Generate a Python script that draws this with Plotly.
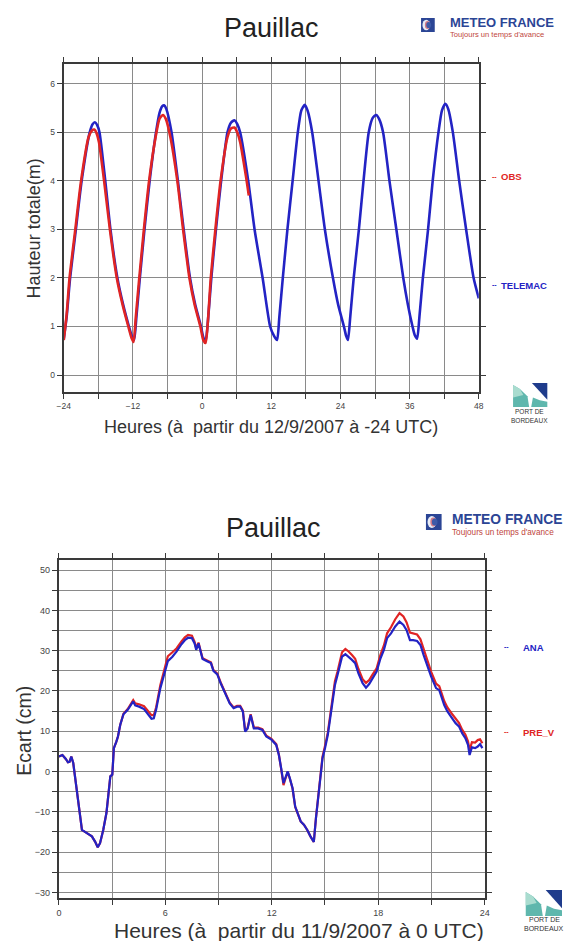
import plotly.graph_objects as go

W, H = 567, 941


def fx(px):
    return px / W


def fy(py):
    return 1 - py / H


# ---- Pauillac: total water height (m), hours from 12/9/2007 -24 UTC ----
telemac_h = [-24.0, -23.5, -22.9, -21.9, -20.9, -19.5, -19.0, -18.6, -18.2, -17.8,
             -16.8, -15.9, -14.7, -13.7, -12.7, -12.2, -11.8, -11.4, -10.8, -10.0,
             -9.1, -8.0, -7.4, -6.9, -6.6, -6.2, -5.3, -4.2, -3.2, -2.1,
             -1.2, -0.2, 0.2, 0.6, 1.0, 1.6, 2.4, 3.3, 4.4, 5.0,
             5.6, 6.1, 6.6, 8.0, 9.1, 10.5, 11.8, 12.5, 13.0, 13.4,
             14.0, 14.8, 15.7, 16.6, 17.2, 17.8, 18.3, 19.1, 20.2, 21.3,
             22.7, 23.6, 24.6, 25.0, 25.3, 25.7, 26.3, 27.2, 28.0, 28.9,
             29.6, 30.2, 30.7, 31.4, 32.5, 33.7, 34.9, 35.7, 36.5, 36.9,
             37.3, 37.7, 38.3, 39.2, 40.0, 41.0, 41.6, 42.2, 42.7, 43.5,
             44.6, 45.8, 47.1, 48.0]
telemac_v = [0.75, 1.2, 2.0, 3.0, 4.0, 5.0, 5.17, 5.21, 5.15, 5.0,
             4.0, 3.0, 2.0, 1.45, 1.0, 0.8, 0.72, 1.2, 2.0, 3.0,
             4.0, 5.0, 5.4, 5.54, 5.56, 5.48, 5.0, 4.0, 3.0, 2.0,
             1.45, 1.0, 0.78, 0.69, 1.1, 2.0, 3.0, 4.0, 5.0, 5.2,
             5.25, 5.17, 5.0, 4.0, 3.0, 2.0, 1.0, 0.8, 0.72, 1.2,
             2.0, 3.0, 4.0, 5.0, 5.45, 5.57, 5.45, 5.0, 4.0, 3.0,
             2.0, 1.45, 1.0, 0.8, 0.72, 1.2, 2.0, 3.0, 4.0, 5.0,
             5.3, 5.36, 5.28, 5.0, 4.0, 3.0, 2.0, 1.45, 1.0, 0.82,
             0.75, 1.2, 2.0, 3.0, 4.0, 5.0, 5.45, 5.59, 5.48, 5.0,
             4.0, 3.0, 2.0, 1.58]

obs_h = [-24.0, -23.5, -23.0, -22.0, -21.0, -19.7, -19.1, -18.7, -18.3, -17.9,
         -16.9, -16.0, -14.8, -13.8, -12.8, -12.2, -11.9, -11.5, -10.9, -10.1,
         -9.2, -8.0, -7.4, -6.8, -6.3, -5.5, -4.3, -3.3, -2.2, -1.3,
         -0.3, 0.2, 0.6, 1.0, 1.5, 2.3, 3.2, 4.4, 5.0, 5.6,
         6.1, 6.6, 7.6, 8.1]
obs_v = [0.72, 1.25, 2.0, 3.0, 4.0, 4.9, 5.04, 5.06, 4.98, 4.8,
         3.9, 3.0, 2.0, 1.45, 1.0, 0.75, 0.68, 1.2, 2.0, 3.0,
         4.0, 4.95, 5.28, 5.36, 5.28, 4.9, 4.0, 3.0, 2.0, 1.45,
         1.0, 0.72, 0.66, 1.1, 2.0, 3.0, 4.0, 4.9, 5.08, 5.1,
         5.0, 4.8, 4.1, 3.7]

# ---- Pauillac: surge (cm), hours from 11/9/2007 0 UTC ----
ecart_h = [0.0, 0.2, 0.39, 0.51, 0.6, 0.7, 0.81, 0.94, 1.12, 1.3,
           1.58, 1.86, 2.04, 2.19, 2.32, 2.5, 2.68, 2.83, 2.9, 3.01,
           3.1, 3.24, 3.33, 3.46, 3.64, 3.88, 4.06, 4.19, 4.3, 4.52,
           4.8, 5.04, 5.22, 5.35, 5.48, 5.72, 5.96, 6.14, 6.4, 6.64,
           6.91, 7.1, 7.28, 7.5, 7.65, 7.74, 7.87, 7.98, 8.1, 8.38,
           8.57, 8.71, 8.93, 9.12, 9.39, 9.63, 9.85, 10.04, 10.22, 10.37,
           10.5, 10.64, 10.81, 10.99, 11.23, 11.47, 11.69, 11.98, 12.25, 12.4,
           12.53, 12.66, 12.77, 12.9, 13.02, 13.17, 13.32, 13.45, 13.63, 13.81,
           14.0, 14.18, 14.37, 14.49, 14.6, 14.73, 14.86, 15.0, 15.16, 15.28,
           15.47, 15.56, 15.71, 15.84, 15.96, 16.15, 16.33, 16.52, 16.7, 16.88,
           17.12, 17.31, 17.49, 17.67, 17.91, 18.13, 18.32, 18.5, 18.72, 18.96,
           19.2, 19.42, 19.6, 19.79, 19.97, 20.19, 20.38, 20.56, 20.8, 20.98,
           21.26, 21.44, 21.72, 21.9, 22.14, 22.36, 22.55, 22.73, 22.91, 23.06,
           23.15, 23.28, 23.46, 23.61, 23.74, 23.87]
ana_v = [3.7, 4.1, 3.1, 2.3, 2.4, 3.7, 2.1, -2.5, -9.1, -14.5,
         -15.3, -16.1, -17.4, -18.8, -17.8, -14.5, -10.3, -4.1, -1.2, -0.8,
         5.8, 7.4, 8.7, 11.6, 14.2, 15.3, 16.5, 17.4, 16.4, 16.1,
         15.5, 14.2, 13.1, 13.2, 15.3, 20.7, 24.8, 27.4, 28.5, 29.8,
         31.6, 32.6, 33.2, 33.1, 31.8, 30.2, 31.8, 29.8, 27.9, 27.3,
         26.9, 25.0, 24.1, 21.9, 19.0, 16.9, 15.7, 16.1, 16.1, 14.9,
         9.9, 10.7, 14.0, 10.7, 10.7, 10.3, 8.7, 7.9, 6.6, 4.1,
         0.8, -2.9, -1.5, 0.0, -1.7, -4.1, -8.7, -10.3, -12.4, -13.2,
         -14.5, -16.1, -17.5, -11.6, -7.4, -1.7, 3.3, 5.8, 9.1, 12.8,
         18.2, 21.5, 24.0, 26.4, 28.5, 29.1, 28.5, 27.7, 26.9, 24.4,
         21.9, 20.8, 21.7, 23.1, 24.8, 28.1, 30.2, 33.1, 34.3, 36.0,
         37.2, 36.4, 35.1, 32.6, 32.6, 32.4, 31.4, 28.9, 25.6, 23.6,
         20.7, 20.2, 16.5, 14.9, 13.4, 12.0, 11.2, 9.5, 8.3, 6.6,
         4.1, 6.0, 5.8, 6.2, 6.8, 5.8]
pre_v = [3.7, 4.1, 3.1, 2.3, 2.4, 3.7, 2.1, -2.5, -9.1, -14.5,
         -15.3, -16.1, -17.4, -18.8, -17.8, -14.5, -10.3, -4.1, -1.2, -0.8,
         5.8, 7.4, 8.7, 11.6, 14.3, 15.5, 16.8, 17.7, 16.9, 16.7,
         16.2, 15.0, 14.0, 14.0, 15.9, 21.5, 26.0, 28.6, 29.6, 30.6,
         32.3, 33.3, 33.9, 33.7, 32.2, 30.6, 32.0, 30.0, 28.1, 27.5,
         27.1, 25.2, 24.3, 22.1, 19.2, 17.1, 15.9, 16.3, 16.3, 15.1,
         10.1, 10.9, 14.2, 10.9, 10.9, 10.5, 8.9, 8.1, 6.8, 4.2,
         0.6, -3.4, -1.8, -0.1, -1.8, -4.2, -8.8, -10.4, -12.4, -13.2,
         -14.5, -16.1, -17.5, -11.5, -7.2, -1.4, 3.7, 6.3, 9.7, 13.5,
         19.0, 22.4, 24.9, 27.4, 29.6, 30.4, 29.8, 28.9, 28.0, 25.5,
         22.9, 22.0, 22.7, 24.0, 25.6, 29.0, 31.3, 34.3, 35.8, 37.8,
         39.3, 38.5, 37.0, 34.5, 34.3, 34.0, 32.8, 30.3, 26.9, 24.8,
         21.8, 21.2, 17.5, 15.9, 14.4, 13.0, 12.1, 10.4, 9.2, 7.5,
         5.2, 7.3, 7.2, 7.8, 8.0, 7.0]

top_xticks = [-24, -12, 0, 12, 24, 36, 48]
top_yticks = [0, 1, 2, 3, 4, 5, 6]
bot_xticks = [0, 6, 12, 18, 24]
bot_yticks = [-30, -20, -10, 0, 10, 20, 30, 40, 50]

BLUE = "#2323c4"
RED = "#e02424"
FONT = "Liberation Sans, Arial, sans-serif"

fig = go.Figure()

fig.add_trace(go.Scatter(x=telemac_h, y=telemac_v, mode="lines", xaxis="x", yaxis="y",
                         line=dict(color=BLUE, width=2.6, shape="spline", smoothing=0.6),
                         name="TELEMAC"))
fig.add_trace(go.Scatter(x=obs_h, y=obs_v, mode="lines", xaxis="x", yaxis="y",
                         line=dict(color=RED, width=2.6, shape="spline", smoothing=0.6),
                         name="OBS"))
fig.add_trace(go.Scatter(x=ecart_h, y=pre_v, mode="lines", xaxis="x2", yaxis="y2",
                         line=dict(color=RED, width=2.2), name="PRE_V"))
fig.add_trace(go.Scatter(x=ecart_h, y=ana_v, mode="lines", xaxis="x2", yaxis="y2",
                         line=dict(color=BLUE, width=2.2), name="ANA"))


def axis_style(**kw):
    base = dict(
        showline=True, linecolor="#3a3a3a", linewidth=2.2, mirror="ticks",
        ticks="outside", ticklen=5, tickwidth=1, tickcolor="#3a3a3a",
        showgrid=True, gridcolor="#8a8a8a", gridwidth=1,
        zeroline=False, fixedrange=True,
        tickfont=dict(family=FONT, size=8.5, color="#444"),
    )
    base.update(kw)
    return base


fig.update_layout(
    width=W, height=H, margin=dict(l=0, r=0, t=0, b=0),
    paper_bgcolor="white", plot_bgcolor="white", showlegend=False,
    xaxis=axis_style(domain=[fx(58), fx(482)], range=[-24, 48], anchor="y",
                     tickvals=top_xticks,
                     minor=dict(dtick=6, tick0=0, showgrid=True, gridcolor="#8a8a8a",
                                ticks="outside", ticklen=5, tickcolor="#3a3a3a")),
    yaxis=axis_style(domain=[fy(392), fy(64)], range=[-0.35, 6.41], anchor="x",
                     tickvals=top_yticks),
    xaxis2=axis_style(domain=[fx(53), fx(488)], range=[0, 24], anchor="y2",
                      tickvals=bot_xticks,
                      tickfont=dict(family=FONT, size=9, color="#444"),
                      minor=dict(dtick=3, tick0=0, showgrid=True, gridcolor="#8a8a8a",
                                 ticks="outside", ticklen=5, tickcolor="#3a3a3a")),
    yaxis2=axis_style(domain=[fy(898), fy(560)], range=[-31.4, 52.5], anchor="x2",
                      tickvals=bot_yticks,
                      tickfont=dict(family=FONT, size=9, color="#444"),
                      minor=dict(dtick=5, tick0=0, showgrid=True, gridcolor="#8a8a8a",
                                 ticks="outside", ticklen=5, tickcolor="#3a3a3a")),
)

ann = []


def text(px, py, s, size, color="#222", xanchor="center", angle=0, family=FONT):
    ann.append(dict(x=fx(px), y=fy(py), xref="paper", yref="paper", text=s,
                    showarrow=False, xanchor=xanchor, yanchor="middle", textangle=angle,
                    font=dict(family=family, size=size, color=color)))


# titles
text(270, 28, "Pauillac", 27)
text(272, 528, "Pauillac", 27)

# axis titles
text(270, 427, "Heures (à\u00a0 partir du 12/9/2007 à -24 UTC)", 18, "#333")
text(28, 228, "Hauteur totale(m)", 18, "#333", angle=-90)
text(298, 930, "Heures (à\u00a0 partir du 11/9/2007 à 0 UTC)", 21, "#333")
text(17, 731, "Ecart (cm)", 19.5, "#333", angle=-90)

# series labels
text(493, 176, "<b>--</b>", 7, RED, xanchor="left")
text(503, 177, "<b>OBS</b>", 9.5, RED, xanchor="left")
text(493, 284, "<b>--</b>", 7, BLUE, xanchor="left")
text(503, 285, "<b>TELEMAC</b>", 9.5, BLUE, xanchor="left")
text(506, 646, "<b>--</b>", 7, BLUE, xanchor="left")
text(525, 647, "<b>ANA</b>", 9.5, BLUE, xanchor="left")
text(506, 731, "<b>--</b>", 7, RED, xanchor="left")
text(525, 732, "<b>PRE_V</b>", 9.5, RED, xanchor="left")

# METEO FRANCE marks
MF_BLUE = "#2b4595"
MF_RED = "#c0463c"
text(451, 22.5, "<b>METEO FRANCE</b>", 13, MF_BLUE, xanchor="left")
text(451, 34, "Toujours un temps d'avance", 7.6, MF_RED, xanchor="left")
text(453, 519, "<b>METEO FRANCE</b>", 13.8, MF_BLUE, xanchor="left")
text(453, 532.5, "Toujours un temps d'avance", 8.2, MF_RED, xanchor="left")

# PORT DE BORDEAUX marks
text(534, 411, "PORT DE", 6.5, "#333")
text(534, 420, "BORDEAUX", 6.5, "#333")
text(549, 919, "PORT DE", 7, "#333")
text(549, 928, "BORDEAUX", 7, "#333")

fig.update_layout(annotations=ann)

shapes = []


def rect(x0, y0, x1, y1, color):
    shapes.append(dict(type="rect", xref="paper", yref="paper",
                       x0=fx(x0), x1=fx(x1), y0=fy(y1), y1=fy(y0),
                       fillcolor=color, line=dict(width=0), layer="above"))


def circle(x0, y0, x1, y1, color):
    shapes.append(dict(type="circle", xref="paper", yref="paper",
                       x0=fx(x0), x1=fx(x1), y0=fy(y1), y1=fy(y0),
                       fillcolor=color, line=dict(width=0), layer="above"))


def poly(pts, color):
    d = "M " + " L ".join(f"{fx(a):.5f},{fy(b):.5f}" for a, b in pts) + " Z"
    shapes.append(dict(type="path", xref="paper", yref="paper", path=d,
                       fillcolor=color, line=dict(width=0), layer="above"))


def mf_icon(x0, y0, s):
    rect(x0, y0, x0 + s, y0 + s, MF_BLUE)
    circle(x0 + 0.1 * s, y0 + 0.12 * s, x0 + 0.66 * s, y0 + 0.88 * s, "#e8ecf6")
    circle(x0 + 0.28 * s, y0 + 0.22 * s, x0 + 0.66 * s, y0 + 0.78 * s, "#d27a86")
    circle(x0 + 0.38 * s, y0 + 0.28 * s, x0 + 0.74 * s, y0 + 0.72 * s, "#3d5aa8")


mf_icon(423, 18, 14)
mf_icon(428, 514, 16)


def port_logo(x0, y0, w, h):
    # teal left wing, teal right base, blue corner triangle
    poly([(x0, y0 + 0.08 * h), (x0 + 0.2 * w, y0 + 0.25 * h), (x0 + 0.42 * w, y0 + 0.55 * h),
          (x0 + 0.47 * w, y0 + h), (x0, y0 + h)], "#5fb7ad")
    poly([(x0, y0 + 0.08 * h), (x0 + 0.2 * w, y0 + 0.25 * h), (x0 + 0.3 * w, y0 + 0.5 * h),
          (x0, y0 + 0.6 * h)], "#a9dccf")
    poly([(x0 + 0.53 * w, y0 + h), (x0 + 0.58 * w, y0 + 0.6 * h), (x0 + 0.78 * w, y0 + 0.72 * h),
          (x0 + w, y0 + 0.78 * h), (x0 + w, y0 + h)], "#5fb7ad")
    poly([(x0 + 0.55 * w, y0), (x0 + w, y0), (x0 + w, y0 + 0.7 * h)], "#1f3c8c")


port_logo(517, 383, 35, 24)
port_logo(530, 890, 37, 26)

fig.update_layout(shapes=shapes)

fig.write_html("out.html")
